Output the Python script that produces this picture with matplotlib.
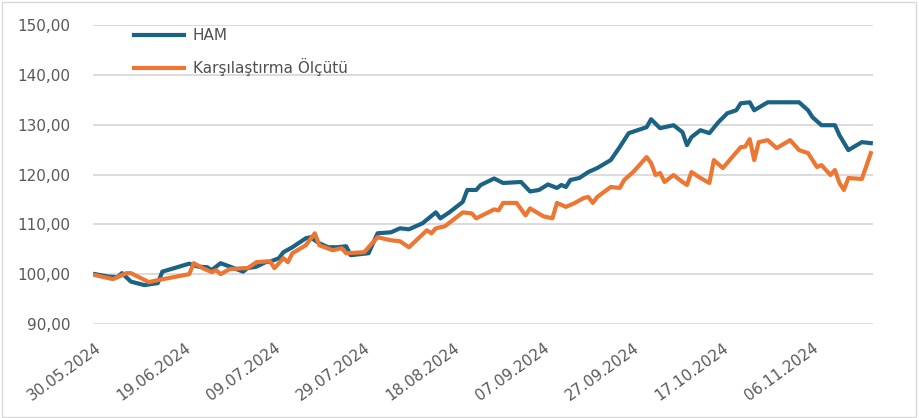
import matplotlib
matplotlib.use("Agg")
import matplotlib.pyplot as plt
import matplotlib.dates as mdates
import matplotlib.ticker as ticker
import pandas as pd

ham_dates = ["2024-05-30", "2024-06-02", "2024-06-04", "2024-06-05", "2024-06-07", "2024-06-10",
             "2024-06-13", "2024-06-14", "2024-06-20", "2024-06-22", "2024-06-24", "2024-06-25",
             "2024-06-27", "2024-06-30", "2024-07-02", "2024-07-03", "2024-07-05", "2024-07-07",
             "2024-07-08", "2024-07-10", "2024-07-11", "2024-07-13", "2024-07-16", "2024-07-17",
             "2024-07-19", "2024-07-21", "2024-07-23", "2024-07-25", "2024-07-26", "2024-07-30",
             "2024-08-01", "2024-08-04", "2024-08-06", "2024-08-08", "2024-08-11", "2024-08-14",
             "2024-08-15", "2024-08-17", "2024-08-20", "2024-08-21", "2024-08-23", "2024-08-24",
             "2024-08-27", "2024-08-29", "2024-09-02", "2024-09-04", "2024-09-06", "2024-09-08",
             "2024-09-10", "2024-09-11", "2024-09-12", "2024-09-13", "2024-09-15", "2024-09-17",
             "2024-09-19", "2024-09-22", "2024-09-24", "2024-09-26", "2024-09-28", "2024-09-30",
             "2024-10-01", "2024-10-03", "2024-10-06", "2024-10-08", "2024-10-09", "2024-10-10",
             "2024-10-12", "2024-10-14", "2024-10-16", "2024-10-18", "2024-10-20", "2024-10-21",
             "2024-10-23", "2024-10-24", "2024-10-27", "2024-11-03", "2024-11-05", "2024-11-06",
             "2024-11-08", "2024-11-11", "2024-11-12", "2024-11-14", "2024-11-17", "2024-11-19"]
ham_values = [100.0, 99.5, 99.4, 100.2, 98.5, 97.8,
              98.2, 100.5, 102.1, 101.5, 101.4, 100.8,
              102.2, 101.2, 100.5, 101.2, 101.5, 102.4,
              102.5, 103.2, 104.4, 105.4, 107.2, 107.4,
              106.2, 105.4, 105.4, 105.6, 103.8, 104.2,
              108.2, 108.4, 109.2, 109.0, 110.2, 112.4,
              111.2, 112.4, 114.5, 116.9, 116.9, 117.9,
              119.2, 118.3, 118.5, 116.6, 116.9, 118.0,
              117.3, 117.9, 117.5, 118.9, 119.3, 120.5,
              121.3, 122.9, 125.5, 128.3, 128.9, 129.5,
              131.1, 129.3, 129.9, 128.5, 125.9, 127.5,
              128.9, 128.3, 130.5, 132.3, 132.9, 134.3,
              134.5, 132.9, 134.5, 134.5, 132.9, 131.5,
              129.9, 129.9, 127.9, 124.9, 126.5, 126.3]

bench_dates = ["2024-05-30", "2024-06-03", "2024-06-06", "2024-06-07", "2024-06-11", "2024-06-13",
               "2024-06-20", "2024-06-21", "2024-06-23", "2024-06-25", "2024-06-26", "2024-06-27",
               "2024-06-29", "2024-07-02", "2024-07-03", "2024-07-05", "2024-07-08", "2024-07-09",
               "2024-07-11", "2024-07-12", "2024-07-13", "2024-07-16", "2024-07-18", "2024-07-19",
               "2024-07-22", "2024-07-24", "2024-07-25", "2024-07-29", "2024-08-01", "2024-08-04",
               "2024-08-06", "2024-08-08", "2024-08-12", "2024-08-13", "2024-08-14", "2024-08-16",
               "2024-08-20", "2024-08-22", "2024-08-23", "2024-08-27", "2024-08-28", "2024-08-29",
               "2024-09-01", "2024-09-03", "2024-09-04", "2024-09-07", "2024-09-09", "2024-09-10",
               "2024-09-12", "2024-09-14", "2024-09-16", "2024-09-17", "2024-09-18", "2024-09-19",
               "2024-09-22", "2024-09-24", "2024-09-25", "2024-09-27", "2024-09-30", "2024-10-01",
               "2024-10-02", "2024-10-03", "2024-10-04", "2024-10-06", "2024-10-08", "2024-10-09",
               "2024-10-10", "2024-10-12", "2024-10-14", "2024-10-15", "2024-10-17", "2024-10-21",
               "2024-10-22", "2024-10-23", "2024-10-24", "2024-10-25", "2024-10-27", "2024-10-29",
               "2024-11-01", "2024-11-03", "2024-11-05", "2024-11-07", "2024-11-08", "2024-11-10",
               "2024-11-11", "2024-11-12", "2024-11-13", "2024-11-14", "2024-11-17", "2024-11-19"]
bench_values = [99.8, 99.0, 100.2, 100.2, 98.4, 98.8,
                100.0, 102.2, 101.2, 100.4, 100.8, 100.0,
                101.0, 101.2, 101.2, 102.4, 102.6, 101.2,
                103.2, 102.4, 104.2, 105.8, 108.2, 105.8,
                104.8, 105.2, 104.2, 104.4, 107.4, 106.8,
                106.6, 105.4, 108.8, 108.2, 109.2, 109.6,
                112.4, 112.2, 111.2, 113.0, 112.8, 114.3,
                114.3, 111.8, 113.2, 111.6, 111.2, 114.3,
                113.5, 114.3, 115.3, 115.5, 114.3, 115.5,
                117.5, 117.3, 118.9, 120.5, 123.5, 122.3,
                119.9, 120.3, 118.5, 119.9, 118.5, 117.9,
                120.5, 119.3, 118.3, 122.9, 121.3, 125.5,
                125.6, 127.1, 122.9, 126.5, 126.9, 125.3,
                126.9, 124.9, 124.3, 121.5, 121.9, 119.9,
                120.9, 118.3, 116.9, 119.3, 119.1, 124.3]

tick_dates = ["2024-05-30", "2024-06-19", "2024-07-09", "2024-07-29", "2024-08-18",
              "2024-09-07", "2024-09-27", "2024-10-17", "2024-11-06"]

fig = plt.figure(figsize=(9.19, 4.18), dpi=100)
fig.patches.append(plt.Rectangle((0.002, 0.003), 0.995, 0.993, transform=fig.transFigure,
                                 fill=False, edgecolor="#d9d9d9", linewidth=1))
ax = fig.add_axes([0.101, 0.225, 0.849, 0.715])

ax.plot(pd.to_datetime(ham_dates), ham_values, color="#1b6384", linewidth=3.0,
        solid_joinstyle="round", label="HAM")
ax.plot(pd.to_datetime(bench_dates), bench_values, color="#ed7732", linewidth=3.0,
        solid_joinstyle="round", label="Karşılaştırma Ölçütü")

ax.set_ylim(90, 150)
ax.set_xlim(pd.Timestamp("2024-05-29 12:00"), pd.Timestamp("2024-11-19 12:00"))
ax.yaxis.set_major_locator(ticker.MultipleLocator(10))
ax.yaxis.set_major_formatter(ticker.FuncFormatter(lambda v, p: "{:.2f}".format(v).replace(".", ",")))
ax.set_xticks(pd.to_datetime(tick_dates))
ax.xaxis.set_major_formatter(mdates.DateFormatter("%d.%m.%Y"))
for lab in ax.get_xticklabels():
    lab.set_rotation(36)
    lab.set_ha("right")
    lab.set_rotation_mode("anchor")

ax.yaxis.grid(True, color="#d9d9d9", linewidth=1.3)
ax.set_axisbelow(True)
for s in ax.spines.values():
    s.set_visible(False)
ax.tick_params(axis="both", length=0, colors="#595959", labelsize=11)
ax.tick_params(axis="y", pad=16)
ax.tick_params(axis="x", pad=12)

leg = ax.legend(loc="upper left", bbox_to_anchor=(0.035, 1.035), frameon=False, fontsize=11,
                handlelength=3.3, labelspacing=0.95, handletextpad=0.55)
for t in leg.get_texts():
    t.set_color("#505050")

fig.savefig("out.png", dpi=100)
